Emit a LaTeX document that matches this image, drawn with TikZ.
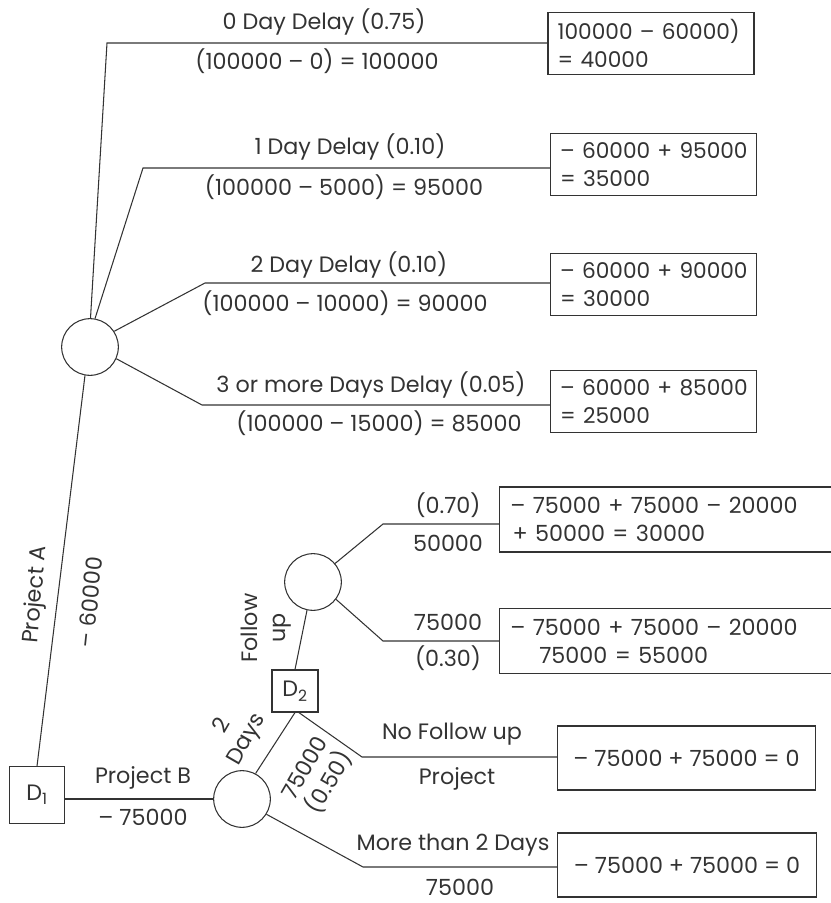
\documentclass[tikz,border=0pt]{standalone}
\usepackage{fontspec}
\setmainfont{Poppins}
\usepackage{tikz}
\usetikzlibrary{shapes,arrows}

\definecolor{ink}{HTML}{333333}
\tikzset{
  dec/.style={draw=ink, line width=0.9pt, minimum width=1.65cm, minimum height=1.7cm, inner sep=0pt},
  decsmall/.style={draw=ink, line width=0.9pt, minimum width=1.38cm, minimum height=1.26cm, inner sep=0pt},
  chance/.style={draw=ink, line width=0.9pt, circle, minimum size=1.7cm, inner sep=0pt},
  payoff/.style={draw=ink, line width=0.9pt, align=left, text width=5.6cm, minimum height=1.86cm, inner xsep=0.29cm, font=\fontsize{18.5pt}{24pt}\selectfont},
  wide/.style={draw=ink, line width=0.9pt, align=left, text width=10cm, minimum height=1.95cm, inner xsep=0.33cm},
  flat/.style={draw=ink, line width=0.9pt, align=center, minimum width=7.75cm, minimum height=1.92cm},
  lab/.style={inner sep=0pt, align=center},
  branch/.style={draw=ink, line width=0.9pt}
}

\begin{document}
\begin{tikzpicture}[x=0.03cm, y=-0.03cm, text=ink, font=\fontsize{19pt}{24pt}\selectfont]
\useasboundingbox (0,0) rectangle (830,903);
% decision and chance nodes
\node[dec] (d1) at (37,795) {D\textsubscript{1}};
\node[chance] (ca) at (90,347) {};
\node[chance] (cb) at (242,799) {};
\node[decsmall] (d2) at (295,691) {D\textsubscript{2}};
\node[chance] (cc) at (313,582) {};
%
% payoff boxes, project A
\node[payoff] (pa0) at (651,43.5) {\mbox{100000 -- 60000)}\\= 40000};
\node[payoff] (pa1) at (653.5,164.5) {\mbox{-- 60000 + 95000}\\= 35000};
\node[payoff] (pa2) at (653.5,284.5) {\mbox{-- 60000 + 90000}\\= 30000};
\node[payoff] (pa3) at (653.5,401.5) {\mbox{-- 60000 + 85000}\\= 25000};
% payoff boxes, project B
\node[wide] (pb0) at (677,519.5) {-- 75000 + 75000 -- 20000\\\hspace{0.1em}+ 50000 = 30000};
\node[wide] (pb1) at (677,641) {-- 75000 + 75000 -- 20000\\\hspace{1.3em}75000 = 55000};
\node[flat] (pb2) at (686.5,758) {-- 75000 + 75000 = 0};
\node[flat] (pb3) at (687,865) {-- 75000 + 75000 = 0};
%
% bends of the branches
\coordinate (a0) at (107,43);
\coordinate (a1) at (143,168);
\coordinate (a2) at (205,283);
\coordinate (a3) at (202,405);
\coordinate (c0) at (383,524);
\coordinate (c1) at (383,641);
\coordinate (e0) at (362,757);
\coordinate (e1) at (363,867);
%
% branches
\draw[branch] (d1.north) -- (ca.-100);
\draw[branch] (ca.89) -- (a0) -- (a0 -| pa0.west);
\draw[branch] (ca.80) -- (a1) -- (a1 -| pa1.west);
\draw[branch] (ca.33) -- (a2) -- (a2 -| pa2.west);
\draw[branch] (ca.-24) -- (a3) -- (a3 -| pa3.west);
\draw[branch] (cb.west -| d1.east) -- (cb.west);
\draw[branch] (cb.62) -- (d2.south);
\draw[branch] (d2.north) -- (cc.258);
\draw[branch] (cc.40) -- (c0) -- (c0 -| pb0.west);
\draw[branch] (cc.-37) -- (c1) -- (c1 -| pb1.west);
\draw[branch] (d2.-80) -- (e0) -- (e0 -| pb2.west);
\draw[branch] (cb.-32) -- (e1) -- (e1 -| pb3.west);
%
% labels, project A
\node[lab] (t0) at (324,22) {0 Day Delay (0.75)};
\node[lab] (v0) at (317,61) {(100000 -- 0) = 100000};
\node[lab] (t1) at (350,147) {1 Day Delay (0.10)};
\node[lab] (v1) at (344,187) {(100000 -- 5000) = 95000};
\node[lab] (t2) at (349,265) {2 Day Delay (0.10)};
\node[lab] (v2) at (345,303) {(100000 -- 10000) = 90000};
\node[lab] (t3) at (371,385) {3 or more Days Delay (0.05)};
\node[lab] (v3) at (379,423) {(100000 -- 15000) = 85000};
\node[lab, rotate=85] (pa) at (36,595) {Project A};
\node[lab, rotate=84] (ma) at (90,602) {-- 60000};
%
% labels, project B
\node[lab] (pb) at (143,778) {Project B};
\node[lab] (mb) at (143,817) {-- 75000};
\node[lab, rotate=60] (two) at (235,733) {2\\Days};
\node[lab, rotate=90] (fu) at (266,628) {Follow\\up};
\node[lab, rotate=60] (half) at (318,776) {75000\\(0.50)};
\node[lab] (p70) at (448,505) {(0.70)};
\node[lab] (v70) at (448,543) {50000};
\node[lab] (v30) at (448,622) {75000};
\node[lab] (p30) at (448,658) {(0.30)};
\node[lab] (nf) at (452,734) {No Follow up};
\node[lab] (nfp) at (457,779) {Project};
\node[lab] (mt) at (453,845) {More than 2 Days};
\node[lab] (mtv) at (460,887) {75000};
\end{tikzpicture}
\end{document}
